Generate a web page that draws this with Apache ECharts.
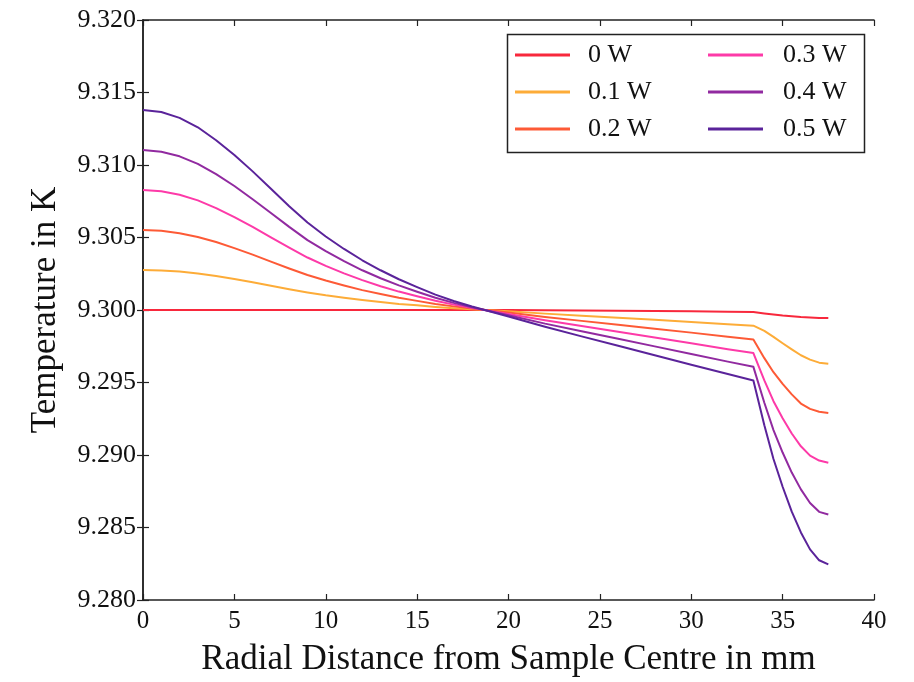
<!DOCTYPE html>
<html>
<head>
<meta charset="utf-8">
<script src="https://cdn.jsdelivr.net/npm/echarts@6/dist/echarts.min.js"></script>
<style>html,body{margin:0;padding:0;background:#fff;}#c{width:914px;height:682px;}</style>
</head>
<body>
<div id="c"></div>
<script>
var radius = [0,1,2,3,4,5,6,7,8,9,10,11,12,13,14,15,16,17,18,19,20,22,24,26,28,30,32,33.4,34,34.5,35,35.5,36,36.5,37,37.5];

var seriesNames = ['0 W','0.1 W','0.2 W','0.3 W','0.4 W','0.5 W'];

var temp0W = [9.3,9.3,9.3,9.3,9.3,9.3,9.3,9.3,9.3,9.3,9.3,9.3,9.3,9.3,9.3,9.3,9.3,9.3,9.3,9.3,9.3,
  9.29998,9.29997,9.29995,9.29993,9.29991,9.29988,9.29986,9.29976,9.29969,9.29962,9.29957,9.29952,9.29949,9.29945,9.29944];
var temp01W = [9.30276,9.30273,9.30265,9.30252,9.30234,9.30214,9.30191,9.30167,9.30143,9.30121,9.30101,9.30084,9.30069,9.30055,9.30042,9.30032,9.30021,9.30012,9.30005,9.29998,9.29991,
  9.29975,9.29961,9.29946,9.29932,9.29918,9.29902,9.29892,9.29856,9.29815,9.29771,9.29729,9.29688,9.29658,9.29637,9.29630];
var temp02W = [9.30552,9.30546,9.30530,9.30504,9.30469,9.30427,9.30382,9.30334,9.30286,9.30241,9.30203,9.30169,9.30137,9.30110,9.30085,9.30063,9.30042,9.30025,9.30010,9.29996,9.29982,
  9.29952,9.29925,9.29898,9.29871,9.29844,9.29816,9.29797,9.29668,9.29571,9.29490,9.29418,9.29355,9.29318,9.29298,9.29290];
var temp03W = [9.30828,9.30819,9.30795,9.30756,9.30703,9.30641,9.30573,9.30501,9.30430,9.30362,9.30304,9.30253,9.30206,9.30164,9.30127,9.30095,9.30064,9.30037,9.30014,9.29994,9.29973,
  9.29929,9.29890,9.29850,9.29810,9.29770,9.29730,9.29703,9.29514,9.29371,9.29253,9.29148,9.29060,9.28996,9.28962,9.28947];
var temp04W = [9.31104,9.31092,9.31060,9.31008,9.30937,9.30855,9.30764,9.30669,9.30573,9.30482,9.30406,9.30337,9.30274,9.30219,9.30170,9.30126,9.30085,9.30049,9.30019,9.29992,9.29964,
  9.29906,9.29854,9.29802,9.29749,9.29697,9.29644,9.29608,9.29360,9.29172,9.29017,9.28879,9.28763,9.28669,9.28608,9.28590];
var temp05W = [9.31380,9.31365,9.31325,9.31260,9.31171,9.31069,9.30956,9.30836,9.30716,9.30603,9.30507,9.30421,9.30343,9.30274,9.30212,9.30158,9.30106,9.30062,9.30024,9.29990,9.29955,
  9.29884,9.29818,9.29753,9.29688,9.29623,9.29558,9.29514,9.29205,9.28972,9.28781,9.28609,9.28466,9.28349,9.28274,9.28246];

var xTicks = [0,5,10,15,20,25,30,35,40];
var yTicks = ['9.280','9.285','9.290','9.295','9.300','9.305','9.310','9.315','9.320'];

var colors = ['#f8283c','#fdac38','#fd5a36','#fd3aa8','#912aa0','#5a239a'];
var allTemps = [temp0W, temp01W, temp02W, temp03W, temp04W, temp05W];

function pairs(xs, ys){ var out=[]; for (var i=0;i<xs.length;i++) out.push([xs[i], ys[i]]); return out; }

var chart = echarts.init(document.getElementById('c'), null, {renderer:'canvas'});
var font = 'Liberation Serif';
var axisLine = {show:true, lineStyle:{color:'#222', width:1.5}};
var tick = {show:true, inside:true, length:6, lineStyle:{color:'#222', width:1.2}};

var series = seriesNames.map(function(n,i){
  return {
    name:n, type:'line', data:pairs(radius, allTemps[i]), showSymbol:false, symbol:'none',
    smooth:false, lineStyle:{color:colors[i], width:2, join:'round'}, itemStyle:{color:colors[i]},
    xAxisIndex:0, yAxisIndex:0, z:2
  };
});

chart.setOption({
  backgroundColor:'#fff',
  animation:false,
  grid:{left:143, right:40, top:20, bottom:76, containLabel:false},
  xAxis:[{
    type:'value', min:xTicks[0], max:xTicks[xTicks.length-1], interval:5, position:'bottom',
    name:'Radial Distance from Sample Centre in mm', nameLocation:'middle', nameGap:42,
    nameTextStyle:{fontFamily:font, fontSize:35, color:'#111'},
    axisLine:axisLine, axisTick:tick,
    axisLabel:{fontFamily:font, fontSize:25, color:'#111', margin:9},
    splitLine:{show:false}
  },{
    type:'value', min:xTicks[0], max:xTicks[xTicks.length-1], interval:5, position:'top',
    axisLine:axisLine, axisTick:tick,
    axisLabel:{show:false}, splitLine:{show:false}
  }],
  yAxis:[{
    type:'value', min:9.28, max:9.32, interval:0.005, position:'left',
    name:'Temperature in K', nameLocation:'middle', nameGap:80,
    nameTextStyle:{fontFamily:font, fontSize:35, color:'#111'},
    axisLine:axisLine, axisTick:tick,
    axisLabel:{fontFamily:font, fontSize:26, color:'#111', margin:7, formatter:function(v){
      var idx = Math.round((v-9.28)/0.005); return yTicks[idx] !== undefined ? yTicks[idx] : v.toFixed(3);}},
    splitLine:{show:false}
  },{
    type:'value', min:9.28, max:9.32, interval:0.005, position:'right',
    axisLine:axisLine, axisTick:tick,
    axisLabel:{show:false}, splitLine:{show:false}
  }],
  legend:[{
    data:seriesNames.slice(0,3), orient:'vertical', left:515, top:42, itemWidth:55, itemHeight:3,
    icon:'rect', itemGap:11, padding:0,
    textStyle:{fontFamily:font, fontSize:26, color:'#111', padding:[0,0,0,13], lineHeight:26}
  },{
    data:seriesNames.slice(3), orient:'vertical', left:708, top:42, itemWidth:55, itemHeight:3,
    icon:'rect', itemGap:11, padding:0,
    textStyle:{fontFamily:font, fontSize:26, color:'#111', padding:[0,0,0,15], lineHeight:26}
  }],
  graphic:[{
    type:'rect', left:505, top:32, shape:{width:357, height:118},
    style:{fill:'none', stroke:'#222', lineWidth:1.5}, z:100, silent:true
  }],
  series:series
});
</script>
</body>
</html>
